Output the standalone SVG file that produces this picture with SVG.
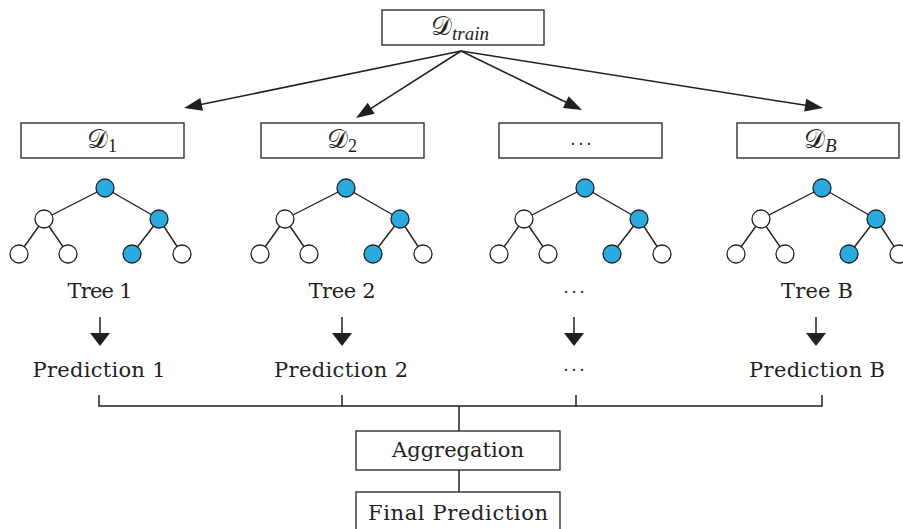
<svg xmlns="http://www.w3.org/2000/svg" width="903" height="529" viewBox="0 0 903 529">
<defs>
<style>
.box{fill:#fff;stroke:#231f20;stroke-width:1.3}
.ln{fill:none;stroke:#231f20;stroke-width:1.5}
.edge{stroke:#231f20;stroke-width:1.4}
.w{fill:#fff;stroke:#231f20;stroke-width:1.3}
.b{fill:#29abe2;stroke:#231f20;stroke-width:1.3}
.t{font-family:"DejaVu Serif","Liberation Serif",serif;font-size:21px;fill:#231f20;text-anchor:middle}
.m{font-family:"DejaVu Serif","DejaVu Sans",serif;font-size:26px;fill:#231f20}
.mi{font-family:"Liberation Serif",serif;font-style:italic;font-size:19px;fill:#231f20}
.ms{font-family:"Liberation Serif",serif;font-size:18px;fill:#231f20}
.dots{font-family:"Liberation Serif",serif;font-size:18px;fill:#231f20;text-anchor:middle;letter-spacing:2px}
.ah{fill:#231f20}
</style>
<marker id="arr" markerUnits="userSpaceOnUse" markerWidth="20" markerHeight="16" viewBox="-1 -8 20 16" refX="2" refY="0" orient="auto">
<path d="M0,-6.5 L18,0 L0,6.5 Z" fill="#231f20"/>
</marker>
<g id="tree">
<line class="edge" x1="0" y1="0" x2="-61" y2="31"/>
<line class="edge" x1="0" y1="0" x2="54" y2="31"/>
<line class="edge" x1="-61" y1="31" x2="-86" y2="66"/>
<line class="edge" x1="-61" y1="31" x2="-37" y2="66"/>
<line class="edge" x1="54" y1="31" x2="27" y2="66"/>
<line class="edge" x1="54" y1="31" x2="77" y2="66"/>
<circle class="b" cx="0" cy="0" r="9"/>
<circle class="w" cx="-61" cy="31" r="9"/>
<circle class="b" cx="54" cy="31" r="9"/>
<circle class="w" cx="-86" cy="66" r="9"/>
<circle class="w" cx="-37" cy="66" r="9"/>
<circle class="b" cx="27" cy="66" r="9"/>
<circle class="w" cx="77" cy="66" r="9"/>
</g>
</defs>

<g id="connectors">
<path class="ln" d="M461,51 L199.7,104.8" marker-end="url(#arr)"/>
<path class="ln" d="M461,51 L369.5,109.4" marker-end="url(#arr)"/>
<path class="ln" d="M461,51 L567.6,103" marker-end="url(#arr)"/>
<path class="ln" d="M461,51 L807.2,105.5" marker-end="url(#arr)"/>
<g id="down-arrows">
<line class="ln" x1="100" y1="317" x2="100" y2="335"/>
<polygon class="ah" points="90,333 110,333 100,346"/>
<line class="ln" x1="342" y1="317" x2="342" y2="335"/>
<polygon class="ah" points="332,333 352,333 342,346"/>
<line class="ln" x1="574" y1="317" x2="574" y2="335"/>
<polygon class="ah" points="564,333 584,333 574,346"/>
<line class="ln" x1="816" y1="317" x2="816" y2="335"/>
<polygon class="ah" points="806,333 826,333 816,346"/>
</g>
<path class="ln" d="M99,395 V406 H822 V395 M342,395 V406 M576,395 V406 M459,406 V431 M459,470 V492"/>
</g>

<g id="node-train">
<rect class="box" x="382" y="10" width="162" height="35"/>
<text x="431" y="35" class="m">𝒟<tspan class="mi" dy="5">train</tspan></text>
</g>
<g id="node-d1">
<rect class="box" x="21" y="123" width="163" height="35"/>
<text x="87" y="148" class="m">𝒟<tspan class="ms" dy="4">1</tspan></text>
</g>
<g id="node-d2">
<rect class="box" x="261" y="123" width="163" height="35"/>
<text x="327" y="148" class="m">𝒟<tspan class="ms" dy="4">2</tspan></text>
</g>
<g id="node-ddots">
<rect class="box" x="499" y="123" width="163" height="35"/>
<text x="582" y="150" class="dots">···</text>
</g>
<g id="node-dB">
<rect class="box" x="737" y="123" width="162" height="35"/>
<text x="804" y="148" class="m">𝒟<tspan class="mi" dy="4">B</tspan></text>
</g>

<g id="tree-1"><use href="#tree" x="105" y="188"/></g>
<g id="tree-2"><use href="#tree" x="346" y="188"/></g>
<g id="tree-dots"><use href="#tree" x="585" y="188"/></g>
<g id="tree-B"><use href="#tree" x="822" y="188"/></g>

<g id="label-tree-1"><text class="t" x="100" y="298" textLength="65">Tree 1</text></g>
<g id="label-tree-2"><text class="t" x="342" y="298" textLength="67">Tree 2</text></g>
<g id="label-tree-dots"><text class="dots" x="575" y="298">···</text></g>
<g id="label-tree-B"><text class="t" x="817" y="298" textLength="72">Tree B</text></g>

<g id="pred-1"><text class="t" x="99" y="377" textLength="133">Prediction 1</text></g>
<g id="pred-2"><text class="t" x="341" y="377" textLength="134">Prediction 2</text></g>
<g id="pred-dots"><text class="dots" x="575" y="376">···</text></g>
<g id="pred-B"><text class="t" x="817" y="377" textLength="136">Prediction B</text></g>

<g id="node-aggregation">
<rect class="box" x="356" y="431" width="204" height="39"/>
<text class="t" x="458" y="457" textLength="132">Aggregation</text>
</g>
<g id="node-final">
<rect class="box" x="356" y="492" width="204" height="45"/>
<text class="t" x="458" y="520" textLength="180">Final Prediction</text>
</g>
</svg>
